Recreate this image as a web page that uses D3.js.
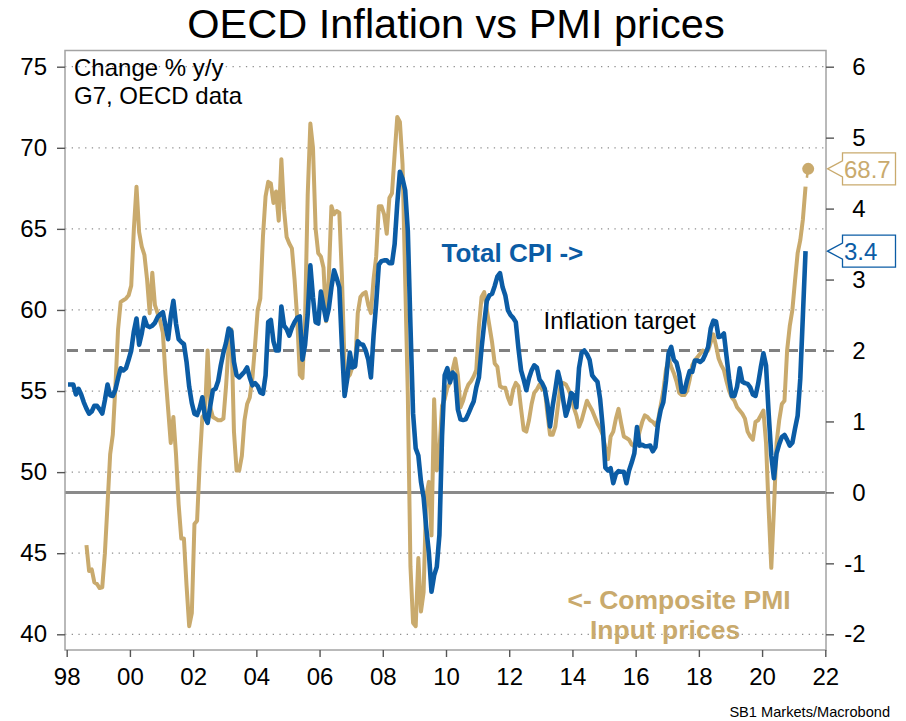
<!DOCTYPE html>
<html>
<head>
<meta charset="utf-8">
<script src="https://cdn.jsdelivr.net/npm/d3@7"></script>
<style>
  body { margin: 0; background: #fff; }
  svg { display: block; font-family: "Liberation Sans", Arial, sans-serif; }
</style>
</head>
<body>
<svg id="chart" width="906" height="721"></svg>
<script>
// G7 CPI, % y/y, monthly from Jan 1998
const cpiStart = 1998;
const cpi = [
  1.52,1.52,1.52,1.38,1.46,1.38,1.27,1.18,1.11,1.14,1.22,1.22,
  1.17,1.11,1.30,1.52,1.37,1.36,1.45,1.61,1.75,1.72,1.75,1.87,
  2.00,2.27,2.45,2.08,2.24,2.46,2.35,2.33,2.35,2.39,2.47,2.51,
  2.54,2.35,2.16,2.48,2.70,2.38,2.16,2.12,2.09,1.84,1.49,1.26,
  1.11,1.09,1.19,1.34,1.06,0.98,1.22,1.44,1.46,1.57,1.79,1.97,
  2.11,2.31,2.27,1.84,1.65,1.62,1.66,1.70,1.76,1.62,1.51,1.54,
  1.50,1.41,1.39,1.65,2.40,2.43,2.13,2.00,2.00,2.62,2.35,2.30,
  2.21,2.32,2.40,2.46,2.48,1.87,2.08,2.51,3.20,2.75,2.40,2.38,
  2.83,2.62,2.43,2.59,2.89,3.13,3.02,2.89,2.05,1.36,1.60,1.97,
  1.76,1.78,2.13,2.09,2.08,2.00,1.87,1.62,2.21,2.67,3.21,3.26,
  3.27,3.27,3.23,3.23,3.50,4.07,4.52,4.42,4.26,3.69,2.35,1.11,
  0.62,0.52,0.15,-0.07,-0.50,-0.85,-1.40,-1.17,-1.05,-0.60,0.80,1.65,
  1.75,1.55,1.69,1.65,1.17,1.03,1.02,1.03,1.11,1.20,1.28,1.48,
  1.62,2.03,2.38,2.70,2.78,2.80,2.91,3.04,3.09,2.89,2.78,2.57,
  2.50,2.46,2.40,2.03,1.72,1.59,1.44,1.61,1.72,1.79,1.76,1.59,
  1.54,1.46,1.25,0.93,1.22,1.45,1.70,1.55,1.30,1.08,1.20,1.40,
  1.37,1.20,1.75,1.97,2.00,1.95,1.87,1.65,1.60,1.56,1.32,0.92,
  0.35,0.31,0.34,0.13,0.26,0.30,0.29,0.29,0.13,0.31,0.42,0.55,
  0.92,0.66,0.67,0.65,0.65,0.66,0.58,0.64,0.97,1.16,1.27,1.57,
  1.96,2.05,1.87,1.83,1.68,1.42,1.42,1.58,1.71,1.70,1.86,1.86,
  1.84,1.87,1.95,2.05,2.31,2.42,2.41,2.19,2.20,2.24,1.92,1.60,
  1.36,1.36,1.49,1.75,1.56,1.54,1.53,1.48,1.38,1.36,1.53,1.76,
  1.96,1.79,1.11,0.52,0.20,0.55,0.68,0.78,0.81,0.74,0.66,0.70,
  0.90,1.08,1.60,2.50,3.40
];

// Composite PMI input prices, monthly from Aug 1998
const pmiStart = 1998 + 7 / 12;
const pmi = [
  45.5,43.9,44.0,43.2,43.1,
  42.85,42.9,45.0,48.0,51.1,52.3,55.3,58.8,60.5,60.6,60.7,60.9,
  61.5,65.0,67.6,64.8,63.9,63.4,61.9,59.8,62.3,60.3,59.8,59.3,
  58.6,56.0,53.9,51.8,53.4,51.1,48.0,45.9,45.9,43.0,40.5,41.3,
  46.8,47.0,50.6,53.4,53.6,57.5,54.0,53.4,53.3,53.2,53.2,53.3,
  55.3,57.9,58.8,52.5,50.1,50.1,51.0,53.2,54.2,54.6,55.8,57.8,
  60.0,60.7,64.5,67.0,67.9,67.8,66.6,67.3,65.5,69.3,66.2,64.5,
  64.1,63.8,61.9,59.5,56.0,55.8,59.5,67.1,71.5,70.0,65.0,63.5,
  63.3,62.6,59.3,62.0,66.4,65.9,66.1,66.0,62.0,56.5,55.8,56.0,
  56.5,56.5,59.8,60.8,61.0,61.1,60.3,59.8,61.9,63.3,66.4,66.4,
  65.9,64.7,66.9,67.2,69.6,71.9,71.6,69.0,61.9,54.8,44.2,40.7,
  40.5,44.7,41.4,42.6,48.5,49.4,46.1,54.5,50.1,51.3,54.1,54.5,
  55.2,55.5,56.3,57.0,56.0,54.0,54.4,55.0,55.4,55.6,55.9,56.3,
  59.0,60.8,61.1,60.0,59.0,58.0,56.7,56.5,55.3,55.2,55.2,54.6,
  54.2,55.1,55.5,55.3,53.9,52.6,52.5,53.2,54.2,54.9,55.1,55.4,
  55.1,55.1,53.6,52.3,52.3,52.8,54.1,55.4,55.5,55.4,55.1,54.7,
  54.0,53.5,52.8,53.2,53.8,54.4,54.1,53.8,53.4,53.0,52.7,52.3,
  51.5,50.8,52.2,52.5,53.3,53.9,53.0,52.2,52.1,52.0,51.7,51.6,
  51.8,52.5,53.1,53.5,53.4,53.2,53.1,52.9,53.2,54.1,55.0,56.3,
  57.0,56.5,56.1,55.6,54.9,54.75,54.75,55.0,55.7,56.6,56.9,57.1,
  57.3,57.5,57.4,57.5,58.0,58.5,57.8,57.0,56.6,56.3,55.6,55.0,
  54.6,54.4,54.0,53.8,53.6,53.3,52.5,52.2,52.0,53.1,53.2,53.5,
  53.8,51.8,47.7,44.1,47.7,51.8,53.2,54.2,54.4,57.5,59.0,60.0,
  61.8,63.5,64.3,65.6,67.6
];
const pmiFlash = 68.7; // June 2021 flash

const pmiTicks = [40, 45, 50, 55, 60, 65, 70, 75];
const cpiTicks = [-2, -1, 0, 1, 2, 3, 4, 5, 6];
const yearTicks = d3.range(1998, 2023, 2);
const inflationTarget = 2;

const blue = '#0b5ca5';
const tan = '#c9aa6d';

const svg = d3.select('#chart');
const frame = { left: 65, right: 826, top: 50.5, bottom: 650 };

const x = d3.scaleLinear().domain([1998, 2022]).range([66.7, 825.3]);
const yL = d3.scaleLinear().domain([40, 75]).range([634.3, 66.7]);
const yR = d3.scaleLinear().domain([-2, 6]).range([634.3, 66.7]);

// monthly values sit mid-month
const monthX = (start, i) => x(start + (i + 0.5) / 12);

// title
svg.append('text')
  .attr('x', 456).attr('y', 38)
  .attr('text-anchor', 'middle')
  .attr('font-size', '41.5px')
  .text('OECD Inflation vs PMI prices');

// dotted grid from the left axis
svg.append('g')
  .selectAll('line')
  .data(pmiTicks)
  .enter()
  .append('line')
    .attr('x1', frame.left).attr('x2', frame.right)
    .attr('y1', d => yL(d)).attr('y2', d => yL(d))
    .attr('stroke', '#8f8f8f')
    .attr('stroke-width', 1.3)
    .attr('stroke-dasharray', '1.3,5.4');

// zero line and inflation target
svg.append('line')
  .attr('x1', frame.left).attr('x2', frame.right)
  .attr('y1', yR(0)).attr('y2', yR(0))
  .attr('stroke', '#8a8a8a').attr('stroke-width', 3);

svg.append('line')
  .attr('x1', frame.left + 2).attr('x2', frame.right)
  .attr('y1', yR(inflationTarget)).attr('y2', yR(inflationTarget))
  .attr('stroke', '#808080').attr('stroke-width', 3)
  .attr('stroke-dasharray', '11,7');

// frame
svg.append('rect')
  .attr('x', frame.left).attr('y', frame.top)
  .attr('width', frame.right - frame.left)
  .attr('height', frame.bottom - frame.top)
  .attr('fill', 'none')
  .attr('stroke', '#a3a3a3')
  .attr('stroke-width', 1.5);

// axes
function styleAxis(g) {
  g.select('.domain').remove();
  g.selectAll('.tick line').attr('stroke', '#555').attr('stroke-width', 1.4);
  g.selectAll('.tick text')
    .attr('fill', '#000')
    .style('font-size', '24px')
    .style('font-family', 'inherit');
}

svg.append('g')
  .attr('transform', `translate(${frame.left},0)`)
  .call(d3.axisLeft(yL).tickValues(pmiTicks).tickSize(8).tickPadding(10).tickFormat(d => String(d)))
  .call(styleAxis);

svg.append('g')
  .attr('transform', `translate(${frame.right},0)`)
  .call(d3.axisRight(yR).tickValues(cpiTicks).tickSize(8).tickPadding(10).tickFormat(d => String(d)))
  .call(styleAxis)
  .call(g => g.selectAll('.tick text').attr('text-anchor', 'end').attr('x', 39.5));

svg.append('g')
  .attr('transform', `translate(0,${frame.bottom})`)
  .call(d3.axisBottom(x).tickValues(yearTicks).tickSize(7).tickPadding(11)
    .tickFormat(d => String(d % 100).padStart(2, '0')))
  .call(styleAxis);

// series
const pmiLine = d3.line()
  .x((d, i) => monthX(pmiStart, i))
  .y(d => yL(d));

const cpiLine = d3.line()
  .x((d, i) => monthX(cpiStart, i))
  .y(d => yR(d));

svg.append('path')
  .datum(pmi)
  .attr('d', pmiLine)
  .attr('fill', 'none')
  .attr('stroke', tan)
  .attr('stroke-width', 4)
  .attr('stroke-linejoin', 'round');

svg.append('path')
  .datum(cpi)
  .attr('d', cpiLine)
  .attr('fill', 'none')
  .attr('stroke', blue)
  .attr('stroke-width', 4.6)
  .attr('stroke-linejoin', 'round');

// flash estimate dot with a short stem
const fx = monthX(pmiStart, pmi.length);
const fy = yL(pmiFlash);
const lx = monthX(pmiStart, pmi.length - 1);
const ly = yL(pmi[pmi.length - 1]);
const len = Math.hypot(lx - fx, ly - fy);
svg.append('line')
  .attr('x1', fx).attr('y1', fy)
  .attr('x2', fx + (lx - fx) * 9 / len).attr('y2', fy + (ly - fy) * 9 / len)
  .attr('stroke', tan).attr('stroke-width', 2.5);
svg.append('circle')
  .attr('cx', fx).attr('cy', fy).attr('r', 6)
  .attr('fill', tan);

// last value tags on the right
function valueTag(y, label, color) {
  const tip = frame.right + 1.5, bx = tip + 15, bw = 53;
  svg.append('path')
    .attr('d', `M${tip},${y} L${bx},${y - 8} V${y - 16} H${bx + bw} V${y + 16} H${bx} V${y + 8} Z`)
    .attr('fill', '#fff')
    .attr('stroke', color)
    .attr('stroke-width', 1.3);
  svg.append('text')
    .attr('x', bx + 1.5).attr('y', y)
    .attr('dy', '0.36em')
    .attr('font-size', '24px')
    .attr('fill', color)
    .text(label);
}
valueTag(fy, pmiFlash.toFixed(1), tan);
valueTag(yR(cpi[cpi.length - 1]), cpi[cpi.length - 1].toFixed(1), blue);

// annotations
const notes = [
  { text: 'Change % y/y', x: 74, y: 76, size: 24, color: '#000', weight: 'normal' },
  { text: 'G7, OECD data', x: 74, y: 104, size: 24, color: '#000', weight: 'normal' },
  { text: 'Total CPI ->', x: 441.5, y: 261.5, size: 26, color: blue, weight: 'bold' },
  { text: 'Inflation target', x: 543.5, y: 328.5, size: 24, color: '#000', weight: 'normal' },
  { text: '<- Composite PMI', x: 567.5, y: 608.5, size: 26.5, color: tan, weight: 'bold' },
  { text: 'Input prices', x: 590, y: 638.5, size: 26.5, color: tan, weight: 'bold' }
];
svg.append('g')
  .selectAll('text')
  .data(notes)
  .enter()
  .append('text')
    .attr('x', d => d.x)
    .attr('y', d => d.y)
    .attr('font-size', d => d.size + 'px')
    .attr('fill', d => d.color)
    .style('font-weight', d => d.weight)
    .text(d => d.text);

svg.append('text')
  .attr('x', 890).attr('y', 717)
  .attr('text-anchor', 'end')
  .attr('font-size', '14.6px')
  .text('SB1 Markets/Macrobond');
</script>
</body>
</html>
